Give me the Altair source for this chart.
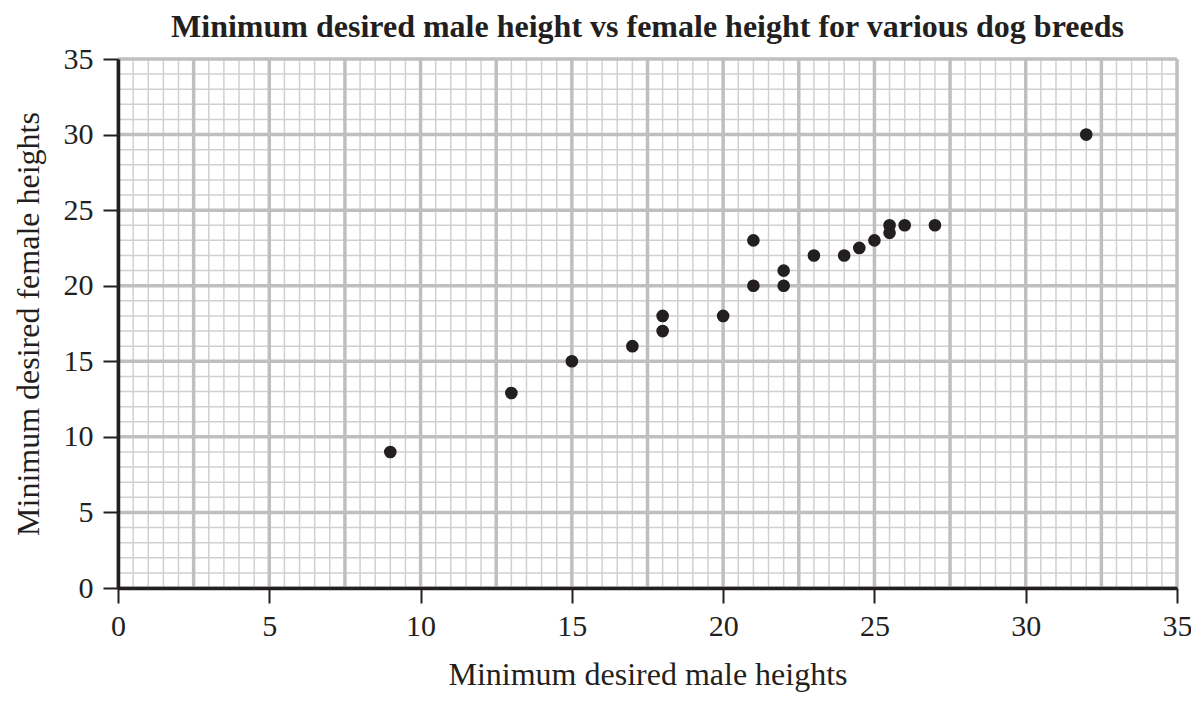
import altair as alt
import numpy as np
import pandas as pd

male = [9, 13, 15, 17, 18, 18, 20, 21, 21, 22, 22, 23, 24, 24.5, 25, 25.5, 25.5, 26, 27, 32]
female = [9, 12.9, 15, 16, 18, 17, 18, 23, 20, 21, 20, 22, 22, 22.5, 23, 24, 23.5, 24, 24, 30]

minor_x = list(np.arange(0, 35.01, 0.5))
major_x = list(np.arange(0, 35.01, 2.5))
minor_y = list(np.arange(0, 35.01, 1))
major_y = list(np.arange(0, 35.01, 5))
ticks = [0, 5, 10, 15, 20, 25, 30, 35]

FONT = "Liberation Serif"
INK = "#231f20"
xs = alt.Scale(domain=[0, 35], nice=False)
ys = alt.Scale(domain=[0, 35], nice=False)
XT = "Minimum desired male heights"
YT = "Minimum desired female heights"

common = dict(values=ticks, grid=False, domainColor=INK, domainWidth=3.5,
              tickColor=INK, tickWidth=2, tickSize=15, labelFlush=False,
              labelFont=FONT, labelFontSize=30, labelColor=INK,
              titleFont=FONT, titleFontSize=32, titleFontWeight="normal",
              titleColor=INK, zindex=1)
xaxis = alt.Axis(labelPadding=8, titlePadding=18, **common)
yaxis = alt.Axis(labelPadding=10, titlePadding=18, **common)

pts = pd.DataFrame({"male": male, "female": female})

def vlines(vals, color, w):
    return alt.Chart(pd.DataFrame({"v": vals})).mark_rule(color=color, strokeWidth=w).encode(
        x=alt.X("v:Q", scale=xs, axis=xaxis, title=XT))

def hlines(vals, color, w):
    return alt.Chart(pd.DataFrame({"v": vals})).mark_rule(color=color, strokeWidth=w).encode(
        y=alt.Y("v:Q", scale=ys, axis=yaxis, title=YT))

grid = alt.layer(
    vlines(minor_x, "#d0d0d2", 1.5),
    hlines(minor_y, "#d0d0d2", 1.5),
    vlines(major_x, "#bfbfc1", 3.5),
    hlines(major_y, "#bfbfc1", 3.5),
)

scatter = alt.Chart(pts).mark_circle(size=160, color=INK, opacity=1).encode(
    x=alt.X("male:Q", scale=xs, title=XT, axis=xaxis),
    y=alt.Y("female:Q", scale=ys, title=YT, axis=yaxis),
)

chart = alt.layer(grid, scatter).properties(
    width=1059, height=529,
    title=alt.TitleParams("Minimum desired male height vs female height for various dog breeds",
                          font=FONT, fontSize=32, fontWeight="bold", color=INK,
                          anchor="middle", offset=0),
    autosize=alt.AutoSizeParams(type="none"),
    padding={"left": 110, "top": 51, "right": 14, "bottom": 126},
).configure_view(stroke=None).configure(background="white")

chart.save("out.html", embed_options={"renderer": "svg", "actions": False})
